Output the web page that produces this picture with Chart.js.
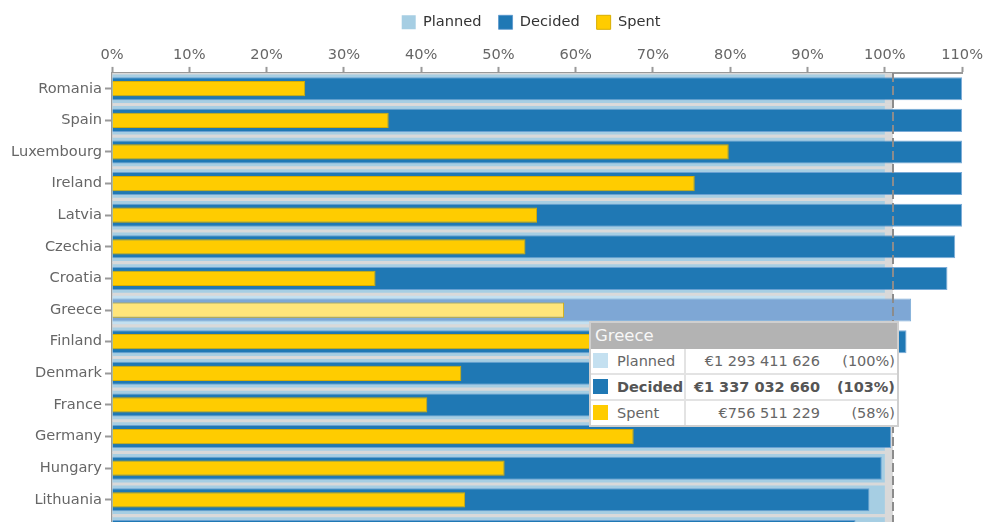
<!DOCTYPE html>
<html>
<head>
<meta charset="utf-8">
<title>Planned / Decided / Spent</title>
<script src="https://cdn.jsdelivr.net/npm/chart.js@4.4.1/dist/chart.umd.min.js"></script>
<style>
html, body { margin: 0; padding: 0; background: #fff; overflow: hidden; }
#wrap { position: relative; width: 986px; height: 522px; overflow: hidden; }
canvas { display: block; }
#tip {
    position: absolute; display: none; background: #fff;
    border: 2px solid #cfcfcf; font-family: 'DejaVu Sans', Verdana, sans-serif;
    font-size: 14.5px; color: #666; box-sizing: border-box;
}
#tip .hd { background: #b3b3b3; color: #f7f7f7; font-size: 16.5px; height: 26px; line-height: 26px; padding-left: 4px; }
#tip table { border-collapse: collapse; width: 100%; table-layout: fixed; }
#tip td { border: 2px solid #e3e3e3; height: 24px; padding: 0 4px; white-space: nowrap; overflow: hidden; }
#tip tr:first-child td { border-top: none; }
#tip tr:last-child td { border-bottom: none; }
#tip td:first-child { border-left: none; width: 87px; padding-left: 2px; }
#tip td:last-child { border-right: none; }
#tip td.amt { text-align: right; border-right: none; padding-right: 0; }
#tip td.pct { text-align: right; border-left: none; width: 71px; padding-right: 2px; }
#tip .sw { display: inline-block; width: 15px; height: 15px; vertical-align: -2px; margin-right: 9px; }
#tip tr.bold td { font-weight: bold; color: #555; }
</style>
</head>
<body>
<div id="wrap">
    <canvas id="chart" width="986" height="559"></canvas>
    <div id="tip"></div>
</div>
<script>
const countries = ['Romania', 'Spain', 'Luxembourg', 'Ireland', 'Latvia', 'Czechia', 'Croatia',
    'Greece', 'Finland', 'Denmark', 'France', 'Germany', 'Hungary', 'Lithuania', 'Slovakia'];
// % of planned budget
const planned = [100, 100, 100, 100, 100, 100, 100, 100, 100, 100, 100, 100, 100, 100, 100];
const decided = [110, 110, 110, 110, 110, 109.1, 108.1, 103.4, 102.8, 101.4, 101.1, 100.8, 99.6, 98.0, 96.2];
const spent = [25.0, 35.8, 79.8, 75.4, 55.0, 53.5, 34.1, 58.5, 64.0, 45.2, 40.8, 67.5, 50.8, 45.7, 41.0];
const band = [101, 101, 101, 101, 101, 101, 101, 101, 101, 101, 101, 101, 101, 101, 101];
const xTicks = [0, 10, 20, 30, 40, 50, 60, 70, 80, 90, 100, 110];
const refValue = 101;

// amounts shown in the tooltip for the highlighted country
const hoverIndex = 7;
const hoverAmounts = [1293411626, 1337032660, 756511229];

const FONT = "'DejaVu Sans', Verdana, sans-serif";
const colors = {
    planned: ['#a6cee3', '#c4e0f0'],
    decided: ['#1f78b4', '#7ea7d5'],
    spent: ['#ffcc00', '#ffe57a'],
};

function pick(key) {
    return (ctx) => colors[key][ctx.dataIndex === hoverIndex ? 1 : 0];
}

function money(n) {
    return '€' + String(n).replace(/\B(?=(\d{3})+(?!\d))/g, ' ');
}

const refLine = {
    id: 'refLine',
    afterDatasetsDraw(chart) {
        const { ctx, chartArea, scales } = chart;
        const x = Math.round(scales.x.getPixelForValue(refValue));
        ctx.save();
        ctx.strokeStyle = '#8c8c8c';
        ctx.lineWidth = 2;
        ctx.setLineDash([9, 4]);
        ctx.beginPath();
        ctx.moveTo(x, chartArea.top);
        ctx.lineTo(x, chartArea.bottom);
        ctx.stroke();
        ctx.restore();
    },
};

// legend sits a little left of the plot centre in the original
const legendNudge = {
    id: 'legendNudge',
    afterLayout(chart) {
        chart.legend.left -= 6;
        chart.legend.right -= 6;
    },
};

function externalTip(context) {
    const { chart, tooltip } = context;
    const tip = document.getElementById('tip');
    if (tooltip.opacity === 0 || !tooltip.dataPoints || !tooltip.dataPoints.length) {
        tip.style.display = 'none';
        return;
    }
    const i = tooltip.dataPoints[0].dataIndex;
    const names = ['Planned', 'Decided', 'Spent'];
    const keys = ['planned', 'decided', 'spent'];
    let rows = '';
    names.forEach((name, k) => {
        const pct = Math.round(hoverAmounts[k] / hoverAmounts[0] * 100);
        rows += '<tr' + (k === 1 ? ' class="bold"' : '') + '>' +
            '<td><span class="sw" style="background:' + colors[keys[k]][k === 0 ? 1 : 0] + '"></span>' + name + '</td>' +
            '<td class="amt">' + money(hoverAmounts[k]) + '</td>' +
            '<td class="pct">(' + pct + '%)</td></tr>';
    });
    tip.innerHTML = '<div class="hd">' + countries[i] + '</div><table>' + rows + '</table>';
    const meta = chart.getDatasetMeta(2).data[i];
    tip.style.display = 'block';
    tip.style.left = '589px';
    tip.style.top = Math.round(meta.y + 11) + 'px';
    tip.style.width = '310px';
}

const chart = new Chart(document.getElementById('chart'), {
    type: 'bar',
    data: {
        labels: countries,
        datasets: [
            { label: 'band', data: band, backgroundColor: '#d9d9d9', barPercentage: 1, categoryPercentage: 1, grouped: false, order: 4 },
            { label: 'Planned', data: planned, backgroundColor: pick('planned'), barPercentage: 0.9, categoryPercentage: 1, grouped: false, order: 3 },
            { label: 'Decided', data: decided, backgroundColor: pick('decided'), borderColor: 'rgba(90,150,205,0.8)', borderWidth: 1, barPercentage: 0.73, categoryPercentage: 1, grouped: false, order: 2 },
            { label: 'Spent', data: spent, backgroundColor: pick('spent'), borderColor: '#d8ad00', borderWidth: 1, barPercentage: 0.48, categoryPercentage: 1, grouped: false, order: 1 },
        ],
    },
    options: {
        indexAxis: 'y',
        responsive: false,
        animation: false,
        events: [],
        layout: { padding: { top: -2, right: 19, bottom: 3, left: 0 } },
        plugins: {
            legend: {
                position: 'top',
                fullSize: false,
                labels: {
                    boxWidth: 14,
                    boxHeight: 14,
                    padding: 17,
                    color: '#333',
                    font: { family: FONT, size: 14.6 },
                    filter: (item) => item.text !== 'band',
                    sort: (a, b) => a.datasetIndex - b.datasetIndex,
                },
            },
            tooltip: { enabled: false, mode: 'index', intersect: false, external: externalTip },
        },
        scales: {
            x: {
                type: 'linear',
                position: 'top',
                min: 0,
                max: 110,
                afterBuildTicks: (scale) => { scale.ticks = xTicks.map((v) => ({ value: v })); },
                afterFit: (scale) => { scale.height = 33.3; },
                ticks: { color: '#666', font: { family: FONT, size: 14.6 }, padding: 3, maxRotation: 0, callback: (v) => v + '%' },
                grid: { drawOnChartArea: false, drawTicks: true, tickLength: 6, tickColor: '#999', tickWidth: 2 },
                border: { color: '#999', width: 2 },
            },
            y: {
                type: 'category',
                offset: true,
                afterFit: (scale) => { scale.width = 112; },
                ticks: { color: '#666', font: { family: FONT, size: 14.6 }, padding: 3 },
                grid: { offset: false, drawOnChartArea: false, drawTicks: true, tickLength: 7, tickColor: '#999', tickWidth: 2 },
                border: { color: '#999', width: 2 },
            },
        },
    },
    plugins: [refLine, legendNudge],
});

chart.tooltip.setActiveElements([
    { datasetIndex: 1, index: hoverIndex },
    { datasetIndex: 2, index: hoverIndex },
    { datasetIndex: 3, index: hoverIndex },
], { x: 589, y: 322 });
chart.update();
</script>
</body>
</html>
